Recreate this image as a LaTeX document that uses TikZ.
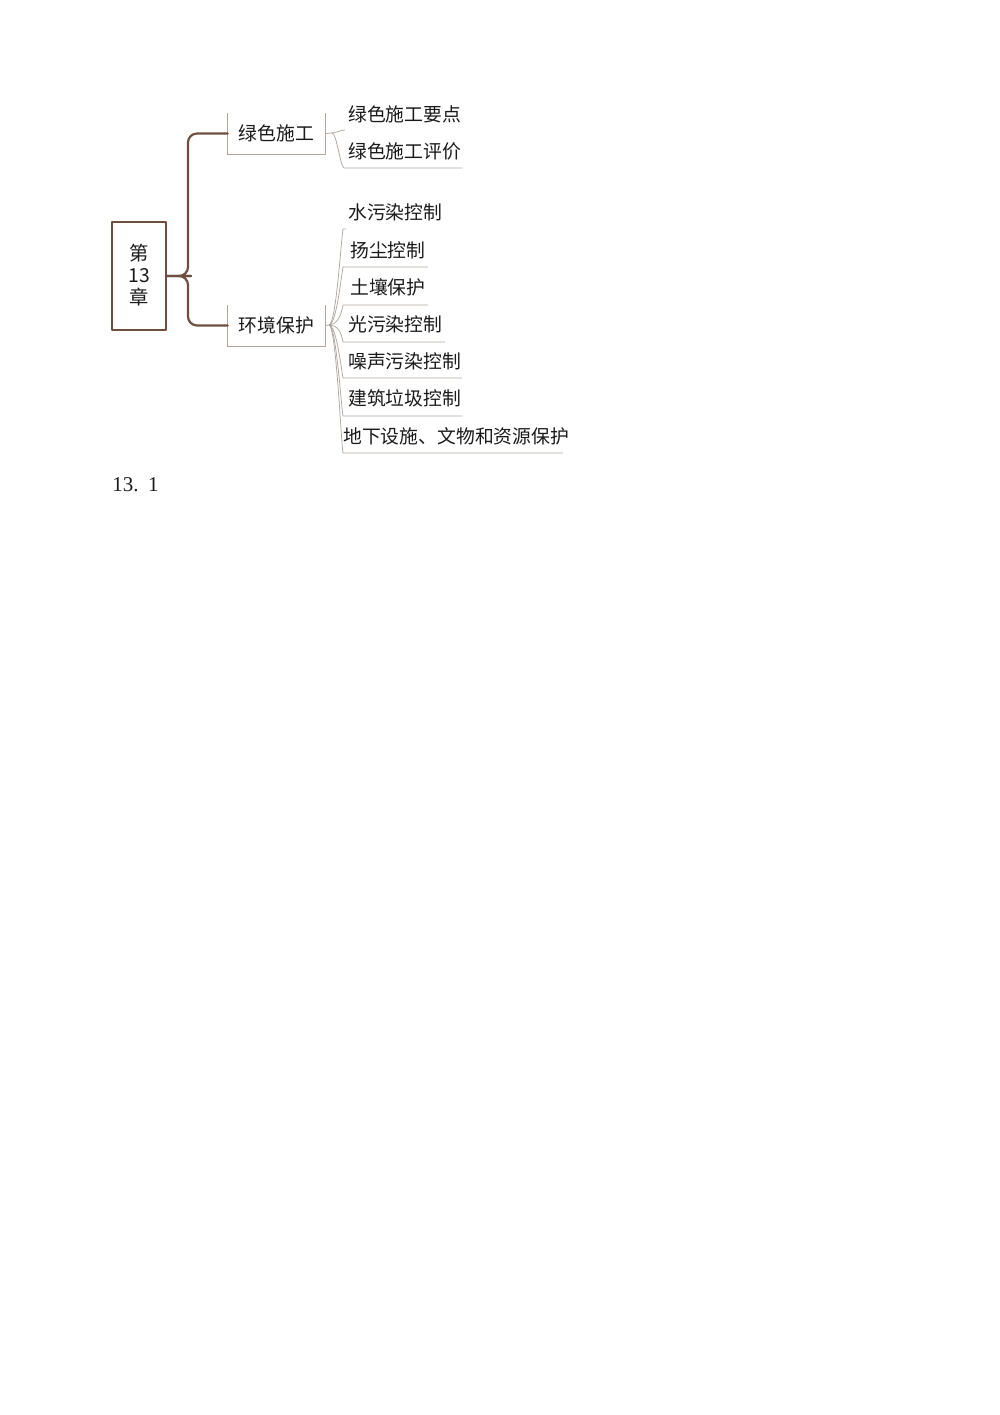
\documentclass[tikz,border=0pt]{standalone}
\usepackage{fontspec}
\newfontfamily\cjk{Noto Sans CJK SC}
\setmainfont{Liberation Serif}
\usetikzlibrary{calc}
\definecolor{rootc}{HTML}{6E4E40}
\definecolor{thinc}{HTML}{B0A69E}
\definecolor{txt}{HTML}{1A1A1A}
\tikzset{
  rootline/.style={draw=rootc,line width=1.3pt,line cap=round,line join=round},
  thinline/.style={draw=thinc,line width=0.45pt},
  lab/.style={inner sep=0pt,text=txt,font=\cjk\fontsize{11.2}{13}\selectfont},
}
\begin{document}
\begin{tikzpicture}[x=0.5953pt,y=-0.5953pt]
\useasboundingbox (0,0) rectangle (1000,1415);
% root
\node[rootline,minimum width=54*0.5953pt,minimum height=108*0.5953pt,inner sep=0pt] (root) at (139,276) {};
\node[lab,align=center,font=\cjk\fontsize{11.5}{13.2}\selectfont] (roott) at (139,275) {第\\13\\章};
% level 1 boxes
\node[lab,minimum width=97*0.5953pt,minimum height=41*0.5953pt] (g1) at (276.5,133.5) {绿色施工};
\node[lab,minimum width=97*0.5953pt,minimum height=41*0.5953pt] (g2) at (276.5,325.5) {环境保护};
\draw[thinline] (g1.north west) -- (g1.south west) -- (g1.south east) -- (g1.north east);
\draw[thinline] (g2.north west) -- (g2.south west) -- (g2.south east) -- (g2.north east);
% root branches
\coordinate (rb) at (182,276);
\draw[rootline,rounded corners=9*0.5953pt] (root.east) -- (rb) -- (188,276) |- (g1.west);
\draw[rootline,rounded corners=9*0.5953pt] (root.east) -- (rb) -- (188,276) |- (g2.west);
% group 1 leaves
\coordinate (f1) at (332,133);
\draw[thinline] (g1.east) -- (f1);
\node[lab,anchor=west] (a1) at (348,114) {绿色施工要点};
\node[lab,anchor=west] (a2) at (348,151) {绿色施工评价};
\coordinate (a1s) at (345,130);
\coordinate (a2s) at (344,168);
\coordinate (a2e) at (462,168);
\draw[thinline] (f1) .. controls (338,132) and (342,130) .. (a1s);
\draw[thinline] (f1) .. controls (337,134) and (340,166) .. (a2s) -- (a2e);
% group 2 leaves
\coordinate (f2) at (329,325);
\draw[thinline] (g2.east) -- (f2);
\foreach \i/\t/\yc/\yu/\xe/\xs in {
 1/水污染控制/212/229/346/348,
 2/扬尘控制/250/267/428/350,
 3/土壤保护/287/305/428/350,
 4/光污染控制/324/342/445/348,
 5/噪声污染控制/361/378/462/348,
 6/建筑垃圾控制/398/416/462/348,
 7/地下设施、文物和资源保护/436/453/563/343}{
  \node[lab,anchor=west] (b\i) at (\xs,\yc) {\t};
  \coordinate (b\i s) at (343,\yu);
  \coordinate (b\i e) at (\xe,\yu);
  \pgfmathsetmacro{\dy}{(\yu<325)?12:-12}
  \draw[thinline] (f2) .. controls ($(f2)+(7,0)$) and ($(b\i s)+(-2,\dy)$) .. (b\i s) -- (b\i e);
}
% caption
\node[inner sep=0pt,anchor=west,font=\fontsize{12.5}{14}\selectfont,text=txt] (cap) at (112,485) {13.\hspace{0.45em}1};
\end{tikzpicture}
\end{document}
